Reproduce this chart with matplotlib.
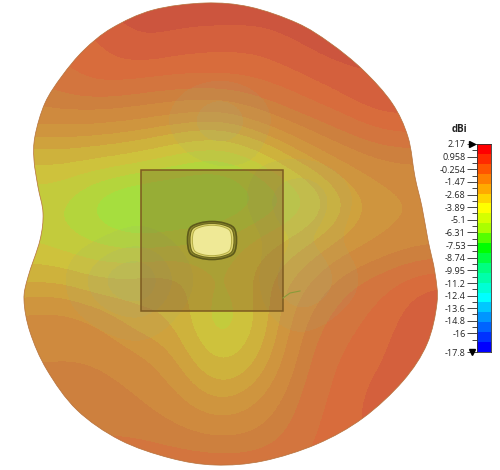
import matplotlib
matplotlib.use('Agg')
import matplotlib.pyplot as plt
import numpy as np
from matplotlib.colors import ListedColormap, BoundaryNorm
from matplotlib.patches import PathPatch, Rectangle
from matplotlib.path import Path

plt.rcParams['font.family'] = ['Open Sans', 'DejaVu Sans']

# colour scale
scale_labels = ['2.17', '0.958', '-0.254', '-1.47', '-2.68', '-3.89', '-5.1', '-6.31', '-7.53',
                '-8.74', '-9.95', '-11.2', '-12.4', '-13.6', '-14.8', '-16', '-17.8']
scale_ticks = [2.17, 0.958, -0.254, -1.47, -2.68, -3.89, -5.1, -6.31, -7.53,
               -8.74, -9.95, -11.2, -12.4, -13.6, -14.8, -16, -17.8]
scale_colors = ['#FF0000', '#FF2A00', '#FF5500', '#FF8000', '#FFAA00', '#FFD500', '#FFFF00',
                '#D5FF00', '#AAFF00', '#55FF00', '#00FF00', '#00FF40', '#00FF80', '#00FFAA',
                '#00FFD5', '#00FFFF', '#00C8FF', '#0096FF', '#0064FF', '#0032FF', '#0000FF']

# outline of the pattern, in image pixels
outline_x = [205, 153, 112, 84, 62, 45, 35, 34, 38, 43, 40, 28, 24, 30, 47, 77, 120, 170, 215,
             263, 317, 363, 403, 427, 437, 435, 428, 422, 415, 408, 392, 363, 330, 297, 250]
outline_y = [3, 10, 28, 50, 76, 103, 136, 160, 187, 213, 240, 277, 300, 332, 370, 410, 440, 458, 465,
             461, 444, 418, 381, 344, 303, 273, 240, 207, 177, 137, 103, 70, 43, 23, 7]

# gain on a 40 px lattice
grid_x = [20, 60, 100, 140, 180, 220, 260, 300, 340, 380, 420, 460]
grid_y = [0, 40, 80, 120, 160, 200, 240, 280, 320, 360, 400, 440, 480]
gain = np.array([
    [-1.0, -1.0, -0.8, -0.7, -0.65, -0.65, -0.65, -0.65, -0.7, -0.8, -1.0, -1.0],
    [-1.3, -1.3, -1.2, -0.85, -1.0, -1.05, -1.05, -0.85, -0.7, -0.9, -1.2, -1.3],
    [-1.7, -1.5, -1.2, -1.35, -1.4, -1.4, -1.35, -1.2, -1.0, -0.8, -1.2, -1.3],
    [-2.2, -2.1, -2.2, -2.3, -2.5, -2.6, -2.1, -1.7, -1.45, -1.15, -1.0, -1.2],
    [-3.6, -3.6, -3.7, -4.0, -4.6, -5.0, -4.2, -3.0, -2.3, -2.0, -2.0, -2.0],
    [-4.7, -4.6, -5.7, -6.2, -6.1, -6.1, -5.5, -4.8, -3.4, -2.6, -2.4, -2.4],
    [-4.2, -4.6, -4.9, -5.2, -4.9, -4.6, -4.0, -3.4, -2.8, -2.4, -2.2, -2.2],
    [-3.3, -3.2, -3.7, -3.4, -3.4, -4.4, -3.4, -2.6, -1.8, -1.5, -1.15, -1.1],
    [-2.2, -2.1, -2.4, -3.2, -3.2, -5.0, -3.6, -2.0, -1.5, -1.3, -0.95, -0.9],
    [-2.0, -2.0, -1.95, -2.2, -2.8, -4.0, -3.2, -1.75, -1.35, -1.2, -0.85, -0.85],
    [-1.9, -1.9, -1.9, -1.95, -2.3, -2.9, -2.4, -1.6, -1.3, -1.0, -0.9, -0.9],
    [-1.7, -1.7, -1.7, -1.7, -1.8, -1.9, -1.85, -1.5, -1.2, -1.1, -1.0, -1.0],
    [-1.3, -1.3, -1.3, -1.3, -1.3, -1.3, -1.3, -1.3, -1.3, -1.1, -1.0, -1.0],
])

# greyish see-through patches where the back lobe shows
haze = np.array([
    [0, 0, 0, 0, 0, 0, 0, 0, 0, 0, 0, 0],
    [0, 0, 0, 0, 0, 0, 0, 0, 0, 0, 0, 0],
    [0, 0, 0, 0, 0, 0, 0, 0, 0, 0, 0, 0],
    [0, 0, 0, 0, 0.1, 0.45, 0.1, 0, 0, 0, 0, 0],
    [0, 0, 0, 0, 0, 0.05, 0, 0, 0, 0, 0, 0],
    [0, 0, 0, 0, 0, 0, 0.1, 0.5, 0.1, 0, 0, 0],
    [0, 0, 0, 0.1, 0, 0, 0, 0.15, 0, 0, 0, 0],
    [0, 0, 0.35, 0.6, 0.1, 0, 0, 0.5, 0.15, 0, 0, 0],
    [0, 0, 0.05, 0.15, 0, 0, 0, 0.1, 0, 0, 0, 0],
    [0, 0, 0, 0, 0, 0, 0, 0, 0, 0, 0, 0],
    [0, 0, 0, 0, 0, 0, 0, 0, 0, 0, 0, 0],
    [0, 0, 0, 0, 0, 0, 0, 0, 0, 0, 0, 0],
    [0, 0, 0, 0, 0, 0, 0, 0, 0, 0, 0, 0],
])

# muted surface colours, lowest gain to highest
surface_bounds = [-6.6, -5.8, -5.2, -4.7, -4.2, -3.7, -3.2, -2.8, -2.4, -2.0, -1.7, -1.4, -1.15, -0.9, -0.6, 0]
surface_colors = ['#9CDB50', '#A6DE3E', '#B4D53C', '#C3CB3C', '#CEC23C', '#CEB23C', '#CFA23D',
                  '#CF953E', '#CF8A3E', '#CD803E', '#D3753E', '#D86C3C', '#D4603D', '#CC553E', '#C24A3C']

# patch on the ground plane, barrel shape
chip_x = [190, 200, 212, 224, 234, 236.5, 234, 224, 212, 200, 190, 187.5]
chip_y = [228, 223, 221.5, 223, 228, 240, 253, 258, 259.5, 258, 253, 240]


def smooth_path(xs, ys):
    # closed catmull-rom through the points
    n = len(xs)
    pts = [(xs[0], ys[0])]
    codes = [Path.MOVETO]
    for i in range(n):
        x0, y0 = xs[i - 1], ys[i - 1]
        x1, y1 = xs[i], ys[i]
        x2, y2 = xs[(i + 1) % n], ys[(i + 1) % n]
        x3, y3 = xs[(i + 2) % n], ys[(i + 2) % n]
        pts += [(x1 + (x2 - x0) / 6, y1 + (y2 - y0) / 6), (x2 - (x3 - x1) / 6, y2 - (y3 - y1) / 6), (x2, y2)]
        codes += [Path.CURVE4, Path.CURVE4, Path.CURVE4]
    return Path(pts, codes)


fig = plt.figure(figsize=(5, 4.7), dpi=100)
ax = fig.add_axes([0, 0, 1, 1])

blob_patch = PathPatch(smooth_path(outline_x, outline_y), fc='none', ec='#B5703A', lw=0.5, zorder=3)
ax.add_patch(blob_patch)

extent = [grid_x[0] - 20, grid_x[-1] + 20, grid_y[-1] + 20, grid_y[0] - 20]
im = ax.imshow(gain, extent=extent, cmap=ListedColormap(surface_colors),
               norm=BoundaryNorm(surface_bounds, len(surface_colors)),
               interpolation='bicubic', interpolation_stage='data', aspect='auto', zorder=1)
im.set_clip_path(blob_patch)

haze_cols = [(0.62, 0.68, 0.5, a) for a in [0.12, 0.24, 0.36, 0.48, 0.6]]
haze_map = ListedColormap(haze_cols)
haze_map.set_under((0, 0, 0, 0))
hz = ax.imshow(haze, extent=extent, cmap=haze_map, vmin=0.06, vmax=0.6,
               interpolation='bicubic', interpolation_stage='data', aspect='auto', zorder=2)
hz.set_clip_path(blob_patch)
ax.set_xlim(0, 500)
ax.set_ylim(470, 0)
ax.axis('off')

# ground plane and patch
ax.add_patch(Rectangle((141, 170), 142, 141, fc='#7A4A28', alpha=0.33, ec='none', zorder=4))
ax.add_patch(Rectangle((141, 170), 142, 141, fc='none', ec='#7D5A20', lw=1.1, zorder=4))
ax.plot([283, 290, 300], [298, 293, 291], color='#8A9A3A', lw=0.8, zorder=4)

chip_cx, chip_cy = np.mean(chip_x), np.mean(chip_y)
for scale, fc, ec, lw in [(1.0, '#8F8A2E', '#5E5A1A', 1.2), (0.9, '#E2D872', '#6E6A1E', 0.9),
                          (0.8, '#EFE996', '#B5AE45', 0.7)]:
    xs = [chip_cx + (x - chip_cx) * scale for x in chip_x]
    ys = [chip_cy + (y - chip_cy) * scale for y in chip_y]
    ax.add_patch(PathPatch(smooth_path(xs, ys), fc=fc, ec=ec, lw=lw, zorder=5))

# colour bar
cax = fig.add_axes([477 / 500, 1 - 352 / 470, 14 / 500, 208 / 470])
edges = np.linspace(scale_ticks[0], scale_ticks[-1], len(scale_colors) + 1)
for i, c in enumerate(scale_colors):
    cax.barh(edges[i], 1, height=edges[i + 1] - edges[i], align='edge', color=c, lw=0)
cax.set_xlim(0, 1)
cax.set_ylim(scale_ticks[-1], scale_ticks[0])
cax.set_xticks([])
cax.set_yticks(scale_ticks)
cax.set_yticklabels(scale_labels, fontsize=6.5, color='#222222')
cax.set_yticks(np.arange(2.17 - 0.606, -17.8, -1.212), minor=True)
cax.tick_params(axis='y', which='major', length=7, width=0.7, color='#444444', pad=1)
cax.tick_params(axis='y', which='minor', length=3.5, width=0.7, color='#444444')
for s in cax.spines.values():
    s.set_linewidth(0.6)
    s.set_color('#333333')
cax.plot([-0.37], [scale_ticks[0]], marker='>', ms=5, color='black', clip_on=False)
cax.plot([-0.37], [scale_ticks[-1]], marker='v', ms=5, color='black', clip_on=False)
ax.text(460, 130, 'dBi', fontsize=7, fontweight='bold', ha='center', va='center', color='#222222')

fig.savefig('out.png', dpi=100)
